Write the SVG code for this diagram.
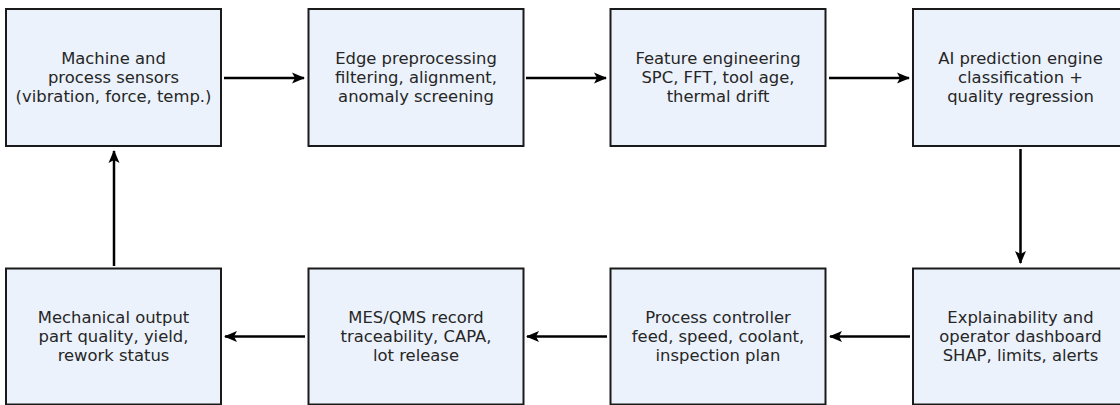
<svg xmlns="http://www.w3.org/2000/svg" width="1120" height="405" viewBox="0 0 1120 405">
<style>
.box{fill:#ebf2fb;stroke:#1a1a1a;stroke-width:2}
.t{font-family:"DejaVu Sans",sans-serif;font-size:16.4px;fill:#262626;text-anchor:middle}
.c{stroke:#000;stroke-width:2.5;fill:none;marker-end:url(#ah)}
</style>
<defs>
<marker id="ah" markerWidth="14" markerHeight="14" viewBox="0 0 14 14" refX="12" refY="7" orient="auto" markerUnits="userSpaceOnUse">
<path d="M0,1.5 L13,7 L0,12.5 L3,7 Z" fill="#000"/>
</marker>
</defs>
<rect width="1120" height="405" fill="#fff"/>
<g id="connectors">
<line class="c" x1="224" y1="78" x2="304" y2="78"/>
<line class="c" x1="526" y1="78" x2="606" y2="78"/>
<line class="c" x1="829" y1="78" x2="909" y2="78"/>
<line class="c" x1="1020.5" y1="149" x2="1020.5" y2="263"/>
<line class="c" x1="910" y1="336.5" x2="830" y2="336.5"/>
<line class="c" x1="607" y1="336.5" x2="527" y2="336.5"/>
<line class="c" x1="305" y1="336.5" x2="225" y2="336.5"/>
<line class="c" x1="114" y1="266" x2="114" y2="151"/>
</g>
<g id="n1"><rect class="box" x="6" y="9" width="215" height="137"/>
<text class="t" x="113.5" y="64">Machine and</text><text class="t" x="113.5" y="83">process sensors</text><text class="t" x="113.5" y="102">(vibration, force, temp.)</text></g>
<g id="n2"><rect class="box" x="308.5" y="9" width="215" height="137"/>
<text class="t" x="416" y="64">Edge preprocessing</text><text class="t" x="416" y="83">filtering, alignment,</text><text class="t" x="416" y="102">anomaly screening</text></g>
<g id="n3"><rect class="box" x="610.5" y="9" width="215" height="137"/>
<text class="t" x="718" y="64">Feature engineering</text><text class="t" x="718" y="83">SPC, FFT, tool age,</text><text class="t" x="718" y="102">thermal drift</text></g>
<g id="n4"><rect class="box" x="913" y="9" width="215" height="137"/>
<text class="t" x="1020.5" y="64">AI prediction engine</text><text class="t" x="1020.5" y="83">classification +</text><text class="t" x="1020.5" y="102">quality regression</text></g>
<g id="n5"><rect class="box" x="913" y="268.5" width="215" height="136"/>
<text class="t" x="1020.5" y="323">Explainability and</text><text class="t" x="1020.5" y="342">operator dashboard</text><text class="t" x="1020.5" y="361">SHAP, limits, alerts</text></g>
<g id="n6"><rect class="box" x="610.5" y="268.5" width="215" height="136"/>
<text class="t" x="718" y="323">Process controller</text><text class="t" x="718" y="342">feed, speed, coolant,</text><text class="t" x="718" y="361">inspection plan</text></g>
<g id="n7"><rect class="box" x="308.5" y="268.5" width="215" height="136"/>
<text class="t" x="416" y="323">MES/QMS record</text><text class="t" x="416" y="342">traceability, CAPA,</text><text class="t" x="416" y="361">lot release</text></g>
<g id="n8"><rect class="box" x="6" y="268.5" width="215" height="136"/>
<text class="t" x="113.5" y="323">Mechanical output</text><text class="t" x="113.5" y="342">part quality, yield,</text><text class="t" x="113.5" y="361">rework status</text></g>
</svg>
